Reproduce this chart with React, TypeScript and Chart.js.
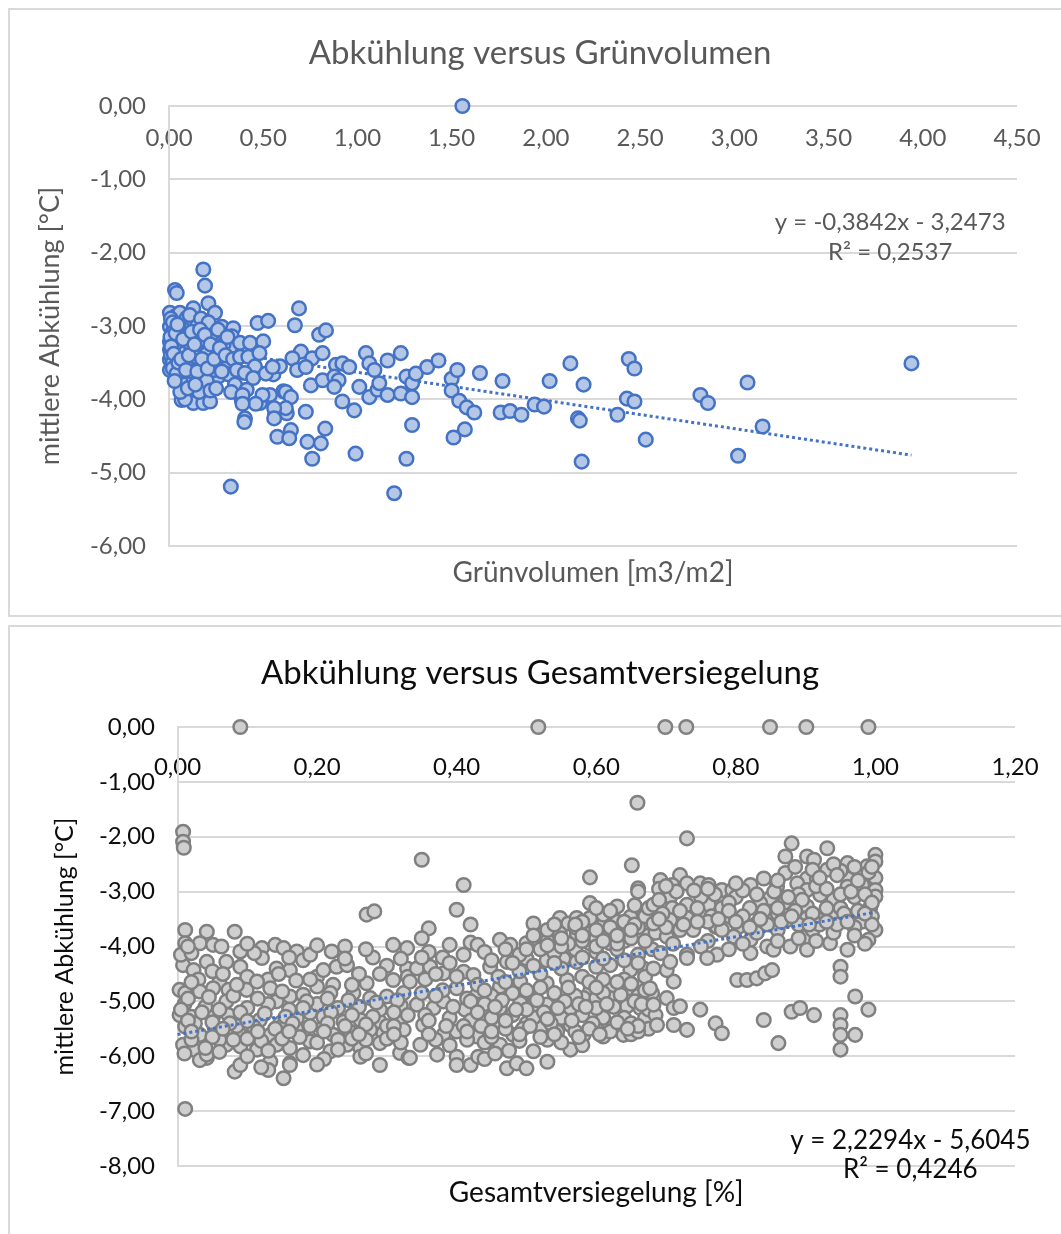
import React, { useEffect, useRef } from "react";
import { Chart, registerables } from "chart.js";
Chart.register(...registerables);

// ---------- Chart 1: Abkühlung versus Grünvolumen ----------
const greenCluster: number[][] = [
  [0.005,-2.82],[0.032,-2.87],[0.058,-2.82],[0.094,-2.89],[0.129,-2.96],[0.129,-2.76],[0.182,-2.23],[0.191,-2.45],[0.032,-2.51],[0.041,-2.55],[0.209,-2.69],[0.244,-2.82],
  [0.005,-3.01],[0.023,-3.07],[0.005,-3.21],[0.058,-3.14],[0.129,-3.12],[0.209,-3.17],[0.262,-3.19],[0.191,-3.28],[0.28,-3.01],[0.341,-3.03],[0.333,-3.14],
  [0.005,-3.32],[0.041,-3.32],[0.111,-3.30],[0.165,-3.37],[0.235,-3.32],[0.324,-3.30],
  [0.005,-3.46],[0.058,-3.55],[0.147,-3.55],[0.218,-3.48],[0.306,-3.51],
  [0.005,-3.60],[0.076,-3.73],[0.129,-3.71],[0.182,-3.80],[0.262,-3.69],[0.315,-3.66],
  [0.067,-4.01],[0.129,-4.05],[0.182,-4.05],[0.218,-4.03],[0.085,-4.0],
  [0.01,-2.9],[0.02,-2.95],[0.015,-3.1],[0.03,-3.2],[0.01,-3.4],[0.02,-3.5],[0.04,-3.4],[0.06,-3.25],[0.08,-3.05],[0.09,-3.35],[0.1,-3.5],[0.07,-3.62],
  [0.11,-2.85],[0.15,-3.0],[0.16,-3.2],[0.17,-2.9],[0.2,-3.38],[0.14,-3.42],[0.12,-3.62],[0.23,-3.1],[0.25,-3.55],[0.27,-3.4],[0.02,-3.58],[0.04,-3.65],
  [0.05,-3.0],[0.1,-3.22],[0.21,-2.95],[0.29,-3.25],[0.18,-3.55],[0.24,-3.6],[0.16,-3.9],[0.2,-3.75],[0.28,-3.62]
];
const greenClusterExtra: number[][] = [
  [0.008,-3.15],[0.012,-3.28],[0.025,-3.38],[0.035,-3.1],[0.045,-2.98],[0.05,-3.5],[0.065,-3.45],[0.075,-3.18],[0.09,-3.6],[0.105,-3.4],
  [0.12,-3.08],[0.135,-3.25],[0.15,-3.62],[0.165,-3.05],[0.175,-3.45],[0.19,-3.12],[0.205,-3.58],[0.22,-3.25],[0.24,-3.45],[0.26,-3.05],
  [0.27,-3.3],[0.3,-3.4],[0.31,-3.15],[0.34,-3.45],[0.36,-3.6],[0.06,-3.9],[0.1,-3.85],[0.14,-3.8],[0.22,-3.88],[0.03,-3.75],
  [0.25,-3.85],[0.35,-3.8],[0.33,-3.9]
];
const greenMid: number[][] = [
  [0.377,-3.23],[0.43,-3.23],[0.50,-3.21],[0.377,-3.42],[0.421,-3.42],[0.456,-3.55],[0.554,-3.66],[0.589,-3.55],[0.403,-3.64],[0.447,-3.71],
  [0.386,-4.01],[0.412,-3.87],[0.483,-4.05],[0.536,-3.94],[0.607,-3.89],[0.403,-4.26],[0.563,-4.21],[0.625,-4.19],
  [0.69,-2.76],[0.668,-2.99],[0.47,-2.96],[0.526,-2.93],[0.797,-3.12],[0.833,-3.06],
  [0.48,-3.37],[0.70,-3.35],[0.655,-3.44],[0.76,-3.44],[0.815,-3.37],[0.68,-3.60],[0.726,-3.56],[0.514,-3.65],[0.55,-3.56],
  [0.39,-3.94],[0.496,-3.94],[0.46,-4.06],[0.39,-4.06],[0.40,-4.31],[0.62,-3.90],[0.647,-3.97],[0.62,-4.12],[0.558,-4.12],[0.558,-4.26],
  [0.575,-4.51],[0.647,-4.42],[0.638,-4.53],[0.726,-4.17],[0.735,-4.58],[0.806,-4.60],[0.76,-4.81],[0.829,-4.40],
  [0.753,-3.81],[0.815,-3.74],[0.886,-3.53],[0.92,-3.51],[0.956,-3.56],[0.877,-3.69],[0.90,-3.74],[0.877,-3.83],[0.92,-4.03],[0.983,-4.15],[0.99,-4.74],
  [1.045,-3.37],[1.063,-3.51],[1.09,-3.60],[1.16,-3.47],[1.23,-3.37],[1.01,-3.83],[1.063,-3.97],[1.107,-3.87],[1.16,-3.94],[1.116,-3.78],[1.23,-3.92],[1.29,-3.97],
  [1.26,-3.69],[1.29,-3.78],[1.31,-3.65],[1.37,-3.56],[1.43,-3.47],[1.29,-4.35],[1.26,-4.81],[1.195,-5.28],[0.328,-5.19]
];
const greenRight: number[][] = [
  [1.50,-3.72],[1.53,-3.60],[1.50,-3.88],[1.54,-4.02],[1.58,-4.11],[1.62,-4.18],[1.51,-4.52],[1.57,-4.41],[1.557,0],[1.65,-3.64],
  [1.77,-3.75],[1.76,-4.18],[1.81,-4.16],[1.87,-4.21],[1.94,-4.07],[1.99,-4.1],[2.02,-3.75],[2.13,-3.51],[2.2,-3.8],[2.17,-4.26],
  [2.18,-4.29],[2.19,-4.85],[2.38,-4.21],[2.43,-3.99],[2.47,-4.03],[2.44,-3.45],[2.47,-3.58],[2.53,-4.55],[2.82,-3.94],[2.86,-4.05],
  [3.07,-3.77],[3.02,-4.77],[3.15,-4.37],[3.94,-3.51]
];
const greenTrend: number[][] = [[0, -3.247], [3.94, -4.761]];
const greenEquation = ["y = -0,3842x - 3,2473", "R² = 0,2537"];

// ---------- Chart 2: Abkühlung versus Gesamtversiegelung ----------
const sealZeroRow: number[][] = [[0.09,0],[0.517,0],[0.699,0],[0.729,0],[0.849,0],[0.901,0],[0.99,0]];
const sealOutliers: number[][] = [
  [0.008,-1.91],[0.008,-2.09],[0.009,-2.2],[0.011,-6.96],[0.35,-2.42],[0.41,-2.88],[0.659,-1.38],[0.651,-2.52],[0.66,-2.94],[0.66,-3.0],
  [0.591,-2.74],[0.73,-2.03],[0.271,-3.42],[0.282,-3.36],[0.40,-3.33],[0.42,-3.6],[0.36,-3.67],[0.35,-3.85]
];
const sealLeftUpper: number[][] = [
  [0.011,-3.70],[0.042,-3.73],[0.082,-3.73],[0.011,-3.94],[0.032,-3.94],[0.051,-3.97],[0.063,-4.0],[0.09,-4.09],[0.121,-4.03],[0.14,-3.97],
  [0.152,-4.03],[0.171,-4.09],[0.221,-4.09],[0.24,-4.0],[0.309,-3.97],[0.329,-4.03],
  [0.008,-4.34],[0.023,-4.43],[0.042,-4.28],[0.07,-4.28],[0.09,-4.37],[0.121,-4.21],[0.142,-4.40],[0.161,-4.43],[0.20,-4.55],[0.209,-4.43],
  [0.228,-4.37],[0.243,-4.34],[0.271,-4.67],[0.309,-4.61],[0.329,-4.40],[0.223,-4.70],
  [0.03,-4.6],[0.06,-4.65],[0.1,-4.55],[0.13,-4.6],[0.17,-4.62],[0.26,-4.5],[0.3,-4.35],[0.32,-4.22],[0.18,-4.25],[0.005,-4.15],
  [0.02,-4.12],[0.05,-4.45],[0.11,-4.12],[0.19,-4.15],[0.28,-4.2]
];
const sealLeftLower: number[][] = [
  [0.003,-4.79],[0.011,-4.85],[0.032,-4.82],[0.051,-4.76],[0.073,-4.79],[0.099,-4.79],[0.114,-4.64],[0.133,-4.76],[0.142,-5.0],[0.161,-4.91],
  [0.18,-4.88],[0.20,-4.73],[0.219,-4.85],[0.252,-4.85],[0.276,-4.94],[0.30,-4.91],[0.324,-4.85],
  [0.003,-5.25],[0.02,-5.28],[0.051,-5.28],[0.073,-5.25],[0.094,-5.28],[0.118,-5.34],[0.147,-5.40],[0.171,-5.31],[0.19,-5.21],[0.209,-5.28],
  [0.238,-5.37],[0.262,-5.34],[0.29,-5.37],[0.319,-5.34],[0.324,-5.52],
  [0.011,-5.46],[0.032,-5.61],[0.061,-5.55],[0.09,-5.61],[0.109,-5.46],[0.133,-5.61],[0.152,-5.43],[0.18,-5.61],[0.204,-5.52],[0.223,-5.61],
  [0.247,-5.55],[0.276,-5.52],[0.295,-5.58],
  [0.008,-5.79],[0.023,-5.88],[0.042,-6.03],[0.07,-5.79],[0.09,-5.82],[0.114,-5.88],[0.133,-6.10],[0.142,-5.79],[0.161,-5.85],[0.161,-6.13],
  [0.19,-5.73],[0.219,-5.91],[0.243,-5.79],[0.262,-5.85],[0.262,-6.01],[0.29,-5.76],[0.319,-5.94],[0.331,-6.03],
  [0.082,-6.28],[0.09,-6.16],[0.13,-6.25],[0.152,-6.40],[0.161,-6.16],[0.29,-6.16],[0.032,-6.07],[0.042,-5.97],
  [0.01,-5.05],[0.04,-5.1],[0.07,-5.0],[0.1,-5.12],[0.13,-5.05],[0.16,-5.15],[0.2,-5.05],[0.23,-5.12],[0.26,-5.1],[0.29,-5.15],
  [0.32,-5.08],[0.025,-5.4],[0.085,-5.45],[0.17,-5.5],[0.3,-5.45],[0.06,-5.7],[0.12,-5.72],[0.2,-5.75],[0.27,-5.7],[0.33,-5.25]
];
const sealLeftExtra: number[][] = [
  [0.015,-4.95],[0.045,-4.92],[0.08,-4.9],[0.115,-4.95],[0.15,-4.82],[0.185,-5.0],[0.215,-4.95],[0.245,-4.98],[0.285,-5.02],[0.315,-4.98],
  [0.005,-5.15],[0.035,-5.2],[0.06,-5.15],[0.09,-5.2],[0.125,-5.22],[0.155,-5.28],[0.18,-5.12],[0.22,-5.2],[0.25,-5.25],[0.28,-5.28],[0.31,-5.2],
  [0.015,-5.35],[0.05,-5.38],[0.075,-5.4],[0.1,-5.36],[0.14,-5.5],[0.165,-5.4],[0.19,-5.45],[0.215,-5.4],[0.24,-5.45],[0.27,-5.42],[0.31,-5.45],
  [0.02,-5.7],[0.05,-5.65],[0.08,-5.7],[0.1,-5.68],[0.15,-5.68],[0.175,-5.65],[0.23,-5.7],[0.25,-5.68],[0.3,-5.68],[0.32,-5.75],
  [0.01,-5.95],[0.06,-5.92],[0.1,-6.0],[0.18,-5.98],[0.21,-6.05],[0.27,-5.95],[0.12,-6.2],[0.2,-6.15],
  [0.02,-4.65],[0.065,-4.5],[0.085,-4.7],[0.145,-4.5],[0.19,-4.6],[0.25,-4.7],[0.29,-4.5],[0.33,-4.55],[0.015,-4.0],[0.1,-3.95],
  [0.2,-3.98],[0.27,-4.05],[0.16,-4.2],[0.24,-4.22],
  [0.02,-5.55],[0.065,-5.5],[0.115,-5.55],[0.16,-5.55],[0.21,-5.55],[0.26,-5.6],[0.31,-5.6],[0.04,-5.85],[0.13,-5.9],[0.23,-5.88]
];
const sealMidUpper: number[][] = [
  [0.591,-3.21],[0.63,-3.27],[0.649,-3.46],[0.668,-3.39],
  [0.51,-3.58],[0.52,-3.79],[0.548,-3.48],[0.56,-3.58],[0.572,-3.48],[0.591,-3.48],[0.591,-3.76],[0.61,-3.61],[0.62,-3.79],[0.63,-3.55],[0.644,-3.76],
  [0.548,-3.76],[0.572,-3.76],[0.591,-3.94],[0.62,-3.94],[0.462,-3.88],[0.477,-3.97],[0.5,-3.94],[0.39,-3.97],[0.42,-3.93],[0.43,-3.97],
  [0.343,-4.40],[0.362,-4.37],[0.381,-4.49],[0.41,-4.46],[0.424,-4.52],[0.448,-4.37],[0.472,-4.28],[0.5,-4.22],[0.529,-4.25],[0.553,-4.22],
  [0.572,-4.28],[0.6,-4.37],[0.62,-4.34],[0.649,-4.43],[0.668,-4.40],
  [0.36,-4.1],[0.38,-4.2],[0.41,-4.15],[0.44,-4.1],[0.47,-4.05],[0.49,-4.15],[0.52,-4.05],[0.54,-4.12],[0.57,-4.05],[0.6,-4.1],
  [0.63,-4.05],[0.66,-4.15],[0.53,-3.9],[0.56,-3.95],[0.6,-3.85],[0.64,-3.9],[0.67,-3.6],[0.655,-3.25],[0.61,-3.42],[0.57,-3.65],
  [0.53,-3.7],[0.45,-4.25],[0.39,-4.3],[0.35,-4.2],[0.675,-3.8],[0.68,-4.05]
];
const sealMidLower: number[][] = [
  [0.40,-4.76],[0.429,-4.88],[0.462,-4.73],[0.491,-4.64],[0.529,-4.67],[0.558,-4.61],[0.591,-4.82],[0.62,-4.76],[0.649,-4.76],[0.668,-4.70],[0.333,-4.64],
  [0.343,-5.06],[0.367,-5.12],[0.381,-5.0],[0.412,-5.15],[0.429,-5.06],[0.448,-5.19],[0.462,-5.12],[0.491,-5.03],[0.51,-5.06],[0.529,-5.06],
  [0.539,-5.21],[0.563,-5.12],[0.582,-4.94],[0.6,-4.94],[0.62,-4.94],[0.644,-5.09],[0.663,-5.12],
  [0.352,-5.43],[0.381,-5.61],[0.40,-5.55],[0.429,-5.64],[0.46,-5.43],[0.481,-5.61],[0.5,-5.40],[0.52,-5.49],[0.544,-5.55],[0.563,-5.43],
  [0.582,-5.61],[0.61,-5.64],[0.639,-5.61],[0.658,-5.46],
  [0.348,-5.79],[0.372,-5.97],[0.40,-6.01],[0.42,-6.16],[0.431,-6.01],[0.462,-5.79],[0.51,-5.91],[0.563,-5.88],[0.333,-6.03],
  [0.472,-6.22],[0.486,-6.13],[0.5,-6.22],[0.40,-6.16],
  [0.35,-4.85],[0.38,-4.8],[0.45,-4.9],[0.48,-4.85],[0.51,-4.88],[0.54,-4.85],[0.57,-4.9],[0.61,-4.85],[0.66,-4.9],[0.355,-5.25],
  [0.39,-5.3],[0.42,-5.35],[0.45,-5.3],[0.48,-5.25],[0.51,-5.3],[0.55,-5.3],[0.58,-5.25],[0.61,-5.3],[0.64,-5.3],[0.67,-5.3],
  [0.37,-5.7],[0.44,-5.75],[0.49,-5.72],[0.53,-5.7],[0.6,-5.5],[0.65,-5.6]
];
const sealMidExtra: number[][] = [
  [0.355,-4.6],[0.37,-4.9],[0.395,-5.1],[0.415,-4.95],[0.44,-5.05],[0.465,-4.98],[0.5,-5.15],[0.525,-5.2],[0.555,-5.0],[0.575,-5.05],
  [0.6,-5.12],[0.625,-5.1],[0.655,-5.0],[0.675,-5.15],
  [0.36,-5.35],[0.41,-5.45],[0.435,-5.45],[0.47,-5.5],[0.495,-5.5],[0.535,-5.4],[0.57,-5.55],[0.595,-5.4],[0.625,-5.45],[0.65,-5.4],[0.675,-5.5],
  [0.36,-5.6],[0.39,-5.8],[0.415,-5.7],[0.45,-5.65],[0.475,-5.9],[0.52,-5.65],[0.55,-5.75],[0.58,-5.8],[0.62,-5.55],[0.66,-5.55],
  [0.44,-6.05],[0.455,-5.95],[0.53,-6.1],
  [0.37,-4.5],[0.4,-4.55],[0.43,-4.7],[0.46,-4.55],[0.49,-4.45],[0.52,-4.5],[0.55,-4.4],[0.58,-4.55],[0.61,-4.6],[0.64,-4.6],[0.67,-4.55],
  [0.48,-4.3],[0.51,-4.35],[0.54,-4.3],[0.58,-4.2],[0.61,-4.22],[0.64,-4.25],[0.66,-4.3],
  [0.5,-4.05],[0.53,-3.98],[0.55,-4.0],[0.58,-3.9],[0.6,-4.0],[0.63,-3.95],[0.65,-3.85],[0.66,-3.65],[0.62,-3.65],[0.6,-3.7],
  [0.58,-3.55],[0.54,-3.6],[0.51,-3.8],[0.64,-3.55],[0.655,-3.6],[0.67,-3.45],[0.62,-3.35],[0.6,-3.3],[0.57,-3.6],[0.675,-3.3],
  [0.42,-5.0],[0.455,-5.1],[0.485,-5.15],[0.515,-4.98],[0.545,-5.12],[0.585,-5.1],[0.615,-5.05],[0.635,-4.88],[0.665,-5.05],[0.68,-4.85],
  [0.43,-5.2],[0.47,-5.35],[0.505,-5.45],[0.53,-5.32],[0.565,-5.35],[0.59,-5.5],[0.63,-5.38],[0.66,-5.45],[0.685,-5.25],
  [0.385,-5.45],[0.415,-5.55],[0.45,-5.55],[0.49,-5.6],[0.54,-5.6],[0.575,-5.65],[0.605,-5.6],[0.645,-5.5],
  [0.56,-4.75],[0.59,-4.65],[0.6,-4.75],[0.63,-4.65],[0.65,-4.68],[0.67,-4.8],[0.52,-4.75],[0.5,-4.8],[0.47,-4.65],[0.44,-4.8],
  [0.55,-3.85],[0.58,-3.8],[0.61,-3.9],[0.63,-3.8],[0.65,-3.7],[0.67,-3.9],[0.685,-3.75]
];
const sealRightUpper: number[][] = [
  [0.88,-2.12],[0.871,-2.36],[0.902,-2.36],[0.912,-2.42],[0.931,-2.21],[0.931,-2.6],[0.96,-2.48],[1.0,-2.33],[1.0,-2.45],[0.988,-2.54],
  [0.871,-2.66],[0.902,-2.76],[0.916,-2.76],[0.96,-2.76],[1.0,-2.75],[0.692,-2.79],[0.72,-2.7],[0.709,-2.88],[0.73,-2.85],[0.749,-2.85],
  [0.761,-2.88],[0.78,-2.97],[0.795,-2.97],[0.821,-2.88],[0.84,-2.76],[0.849,-3.12],[0.835,-3.21],[0.859,-2.91],[0.888,-2.85],[0.902,-2.97],
  [0.921,-3.06],[0.94,-3.15],[0.96,-2.91],[0.981,-2.88],[1.0,-2.97],[1.0,-3.09],[0.682,-3.24],[0.706,-3.09],[0.73,-3.24],[0.761,-3.24],[0.709,-3.30],
  [0.682,-3.58],[0.706,-3.52],[0.73,-3.48],[0.749,-3.42],[0.771,-3.64],[0.792,-3.46],[0.804,-3.64],[0.83,-3.58],[0.849,-3.46],[0.873,-3.52],
  [0.902,-3.27],[0.902,-3.48],[0.921,-3.52],[0.94,-3.46],[0.964,-3.46],[0.993,-3.27],[1.0,-3.70],
  [0.701,-3.82],[0.739,-3.70],[0.773,-3.64],[0.797,-3.82],[0.821,-3.88],[0.845,-4.0],[0.878,-4.0],[0.902,-3.82],[0.935,-3.94],[0.96,-4.06],[0.99,-3.88],
  [0.692,-4.12],[0.73,-4.15],[0.773,-4.15],[0.821,-4.12],[0.854,-4.06],[0.902,-4.06],
  [0.8,-3.1],[0.82,-3.3],[0.87,-3.2],[0.89,-3.05],[0.95,-3.3],[0.97,-3.1],[0.98,-3.55],[0.86,-3.7],[0.91,-3.7],[0.75,-3.1],
  [0.78,-3.3],[0.72,-3.7],[0.76,-3.9],[0.99,-2.65],[0.95,-2.62],[0.94,-3.75],[0.83,-3.75]
];
const sealRightExtra: number[][] = [
  [0.69,-2.95],[0.715,-3.0],[0.74,-2.98],[0.77,-3.05],[0.79,-3.2],[0.81,-2.98],[0.83,-3.05],[0.855,-3.0],[0.875,-3.1],[0.895,-3.15],
  [0.915,-2.9],[0.93,-2.95],[0.95,-3.05],[0.965,-3.0],[0.985,-3.05],[0.995,-3.2],
  [0.695,-3.4],[0.72,-3.35],[0.745,-3.3],[0.765,-3.45],[0.79,-3.35],[0.81,-3.45],[0.84,-3.35],[0.86,-3.4],[0.885,-3.35],[0.91,-3.4],
  [0.93,-3.3],[0.955,-3.4],[0.975,-3.35],[0.995,-3.45],
  [0.7,-3.65],[0.725,-3.6],[0.76,-3.55],[0.78,-3.7],[0.82,-3.65],[0.845,-3.6],[0.865,-3.55],[0.89,-3.6],[0.92,-3.6],[0.945,-3.6],[0.97,-3.65],[0.995,-3.6],
  [0.71,-3.95],[0.75,-4.0],[0.79,-4.05],[0.81,-3.95],[0.86,-3.9],[0.89,-3.85],[0.915,-3.9],[0.97,-3.8],[0.985,-3.95],
  [0.885,-2.55],[0.91,-2.6],[0.94,-2.5],[0.97,-2.55],[0.995,-2.55],[0.92,-2.75],[0.945,-2.7],[0.975,-2.8],[0.86,-2.8],[0.8,-2.85],[0.76,-2.95],
  [0.69,-3.5],[0.69,-3.15],[0.7,-2.9],[0.745,-3.55],[0.775,-3.5],[0.8,-3.55],[0.835,-3.5],[0.86,-3.3],[0.88,-3.45],[0.905,-3.6],
  [0.93,-3.55],[0.96,-3.55],[0.985,-3.4]
];
const sealRightLower: number[][] = [
  [0.802,-4.61],[0.816,-4.61],[0.83,-4.58],[0.842,-4.49],[0.852,-4.43],[0.95,-4.37],[0.95,-4.55],[0.971,-4.91],[0.99,-5.15],[0.88,-5.19],
  [0.892,-5.12],[0.912,-5.25],[0.84,-5.34],[0.861,-5.76],[0.95,-5.25],[0.95,-5.43],[0.95,-5.61],[0.95,-5.88],[0.971,-5.61],
  [0.711,-4.64],[0.701,-4.43],[0.706,-4.28],[0.73,-4.21],[0.759,-4.21],[0.682,-4.4],[0.677,-4.76],[0.701,-4.94],[0.711,-5.12],[0.72,-5.09],
  [0.73,-5.52],[0.749,-5.15],[0.771,-5.40],[0.78,-5.58],[0.682,-5.06],[0.687,-5.43],[0.711,-5.43]
];
const sealTrend: number[][] = [[0, -5.605], [1.0, -3.375]];
const sealEquation = ["y = 2,2294x - 5,6045", "R² = 0,4246"];

// ---------- helpers ----------
const FONT = "Lato, 'Noto Sans', sans-serif";
const toXY = (arr: number[][]) => arr.map(([x, y]) => ({ x, y }));
const fmt = (v: any) => Number(v).toFixed(2).replace(".", ",");

function eqPlugin(id: string, lines: string[], xVal: number, yVals: number[], color: string, size: number) {
  return {
    id,
    afterDatasetsDraw(chart: any) {
      const { ctx, scales } = chart;
      ctx.save();
      ctx.font = `${size}px ${FONT}`;
      ctx.fillStyle = color;
      ctx.textAlign = "center";
      ctx.textBaseline = "middle";
      lines.forEach((t, i) => {
        ctx.fillText(t, scales.x.getPixelForValue(xVal), scales.y.getPixelForValue(yVals[i]));
      });
      ctx.restore();
    },
  };
}

function makeConfig(o: any) {
  const tickFont = { family: FONT, size: o.tickSize };
  return {
    type: "scatter",
    data: {
      datasets: [
        {
          type: "line",
          data: toXY(o.trend),
          borderColor: "#4472c4",
          borderWidth: 3,
          borderDash: [3, 3],
          pointRadius: 0,
          fill: false,
          order: o.trendOrder,
          clip: false,
        },
        {
          data: toXY(o.points),
          pointRadius: 6.8,
          pointBorderWidth: 2.5,
          pointBackgroundColor: o.fill,
          pointBorderColor: o.stroke,
          order: 1,
          clip: false,
        },
      ],
    },
    options: {
      responsive: false,
      animation: false,
      events: [],
      layout: { padding: { left: 0, right: 0, top: 0, bottom: 0 } },
      plugins: {
        legend: { display: false },
        tooltip: { enabled: false },
        title: {
          display: true,
          text: o.title,
          color: o.color,
          font: { family: FONT, size: o.titleSize, weight: "normal", lineHeight: 1.2 },
          padding: { top: o.titlePadTop, bottom: o.titlePadBottom },
        },
      },
      scales: {
        x: {
          type: "linear",
          position: { y: 0 },
          min: 0,
          max: o.xMax,
          ticks: { stepSize: o.xStep, callback: fmt, color: o.color, font: tickFont, padding: o.xTickPad },
          grid: { display: false, drawTicks: false },
          border: { display: false },
        },
        x2: {
          type: "linear",
          position: "bottom",
          min: 0,
          max: o.xMax,
          ticks: { display: false },
          grid: { display: false, drawTicks: false },
          border: { display: false },
          title: {
            display: true,
            text: o.xTitle,
            color: o.color,
            font: { family: FONT, size: o.axisTitleSize, lineHeight: 1.2 },
            padding: { top: o.xTitlePadTop, bottom: o.xTitlePadBottom },
          },
        },
        y: {
          type: "linear",
          position: "left",
          min: o.yMin,
          max: 0,
          ticks: { stepSize: 1, callback: fmt, color: o.color, font: tickFont, padding: o.yTickPad },
          grid: { color: "#d9d9d9", lineWidth: 2, drawTicks: false },
          border: { display: true, color: "#d9d9d9", width: 2 },
          title: {
            display: true,
            text: "mittlere Abkühlung [°C]",
            color: o.color,
            font: { family: FONT, size: o.yTitleSize, lineHeight: 1.2 },
            padding: { top: o.yTitlePad, bottom: 0 },
          },
          afterFit: (s: any) => { s.width = o.yWidth; },
        },
        yRight: {
          type: "linear",
          position: "right",
          ticks: { display: false },
          grid: { display: false, drawTicks: false },
          border: { display: false },
          afterFit: (s: any) => { s.width = o.rightWidth; },
        },
      },
    },
    plugins: [eqPlugin(o.id, o.eq, o.eqX, o.eqY, o.color, o.eqSize)],
  };
}

export default function App() {
  const ref1 = useRef<HTMLCanvasElement>(null);
  const ref2 = useRef<HTMLCanvasElement>(null);
  useEffect(() => {
    const c1 = new Chart(ref1.current as HTMLCanvasElement, makeConfig({
      id: "eq1",
      points: [...greenCluster, ...greenClusterExtra, ...greenMid, ...greenRight],
      trend: greenTrend, trendOrder: 2,
      fill: "#b4c7e7", stroke: "#4472c4",
      color: "#595959",
      title: "Abkühlung versus Grünvolumen", titleSize: 33, titlePadTop: 33.2, titlePadBottom: 33.2,
      xTitle: "Grünvolumen [m3/m2]", axisTitleSize: 28, xTitlePadTop: 10.2, xTitlePadBottom: 28.2,
      yTitleSize: 27, yTitlePad: 33.8,
      tickSize: 24, xTickPad: 17.6, yTickPad: 23,
      xMax: 4.5, xStep: 0.5, yMin: -6,
      yWidth: 169, rightWidth: 63,
      eq: greenEquation, eqX: 3.827, eqY: [-1.58, -2.0], eqSize: 24,
    }) as any);
    const c2 = new Chart(ref2.current as HTMLCanvasElement, makeConfig({
      id: "eq2",
      points: [...sealZeroRow, ...sealOutliers, ...sealLeftUpper, ...sealLeftLower, ...sealLeftExtra, ...sealMidUpper, ...sealMidLower,
        ...sealMidExtra, ...sealRightUpper, ...sealRightExtra, ...sealRightLower],
      trend: sealTrend, trendOrder: 0,
      fill: "#cfcfcf", stroke: "#808080",
      color: "#0d0d0d",
      title: "Abkühlung versus Gesamtversiegelung", titleSize: 33, titlePadTop: 35.2, titlePadBottom: 34.2,
      xTitle: "Gesamtversiegelung [%]", axisTitleSize: 28, xTitlePadTop: 10.2, xTitlePadBottom: 24.2,
      yTitleSize: 25, yTitlePad: 50,
      tickSize: 24, xTickPad: 25.6, yTickPad: 22.5,
      xMax: 1.2, xStep: 0.2, yMin: -8,
      yWidth: 177.5, rightWidth: 65,
      eq: sealEquation, eqX: 1.05, eqY: [-7.54, -8.07], eqSize: 26,
    }) as any);
    return () => { c1.destroy(); c2.destroy(); };
  }, []);
  return (
    <div style={{ position: "fixed", left: 0, top: 0, width: 1061, height: 1234, overflow: "hidden", background: "#fff" }}>
      <div style={{ position: "absolute", left: 8, top: 8, width: 1060, height: 609, border: "2px solid #d9d9d9", boxSizing: "border-box" }} />
      <div style={{ position: "absolute", left: 8, top: 625, width: 1060, height: 620, border: "2px solid #d9d9d9", boxSizing: "border-box" }} />
      <canvas ref={ref1} width={1080} height={618} style={{ position: "absolute", left: 0, top: 0 }} />
      <canvas ref={ref2} width={1080} height={616} style={{ position: "absolute", left: 0, top: 618 }} />
    </div>
  );
}
